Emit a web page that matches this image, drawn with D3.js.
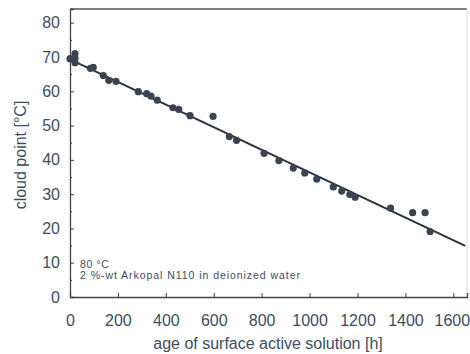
<!DOCTYPE html>
<html><head><meta charset="utf-8">
<script src="https://cdn.jsdelivr.net/npm/d3@7"></script>
<style>body{margin:0;background:#fff}svg{display:block}</style>
</head><body>
<script>
// data
const ageHours = [0, 21, 21, 21, 85, 97, 139, 162, 192, 285, 320, 338, 364, 430, 454, 501, 597, 665, 695, 810, 872, 932, 980, 1030, 1099, 1134, 1168, 1190, 1338, 1430, 1482, 1503];
const cloudPoint = [69.5, 71.0, 69.6, 68.3, 66.7, 67.0, 64.6, 63.2, 62.9, 59.9, 59.3, 58.6, 57.4, 55.2, 54.7, 52.9, 52.7, 46.8, 45.7, 41.9, 39.8, 37.6, 36.2, 34.4, 32.1, 30.9, 29.9, 29.1, 25.9, 24.6, 24.6, 19.1];
const fitX = [0, 1650];
const fitY = [69.3, 14.9];
const xTicks = [0, 200, 400, 600, 800, 1000, 1200, 1400, 1600];
const yTicks = [0, 10, 20, 30, 40, 50, 60, 70, 80];
const yMinor = [5, 15, 25, 35, 45, 55, 65, 75];
const xTitle = "age of surface active solution [h]";
const yTitle = "cloud point [°C]";
const notes = ["80 °C", "2 %-wt Arkopal N110 in deionized water"];

const W = 470, H = 354;
const m = {l: 70, t: 9, r: 3, b: 57};
const pw = W - m.l - m.r, ph = H - m.t - m.b;
const textCol = "#3e4d5e";
const markCol = "#3a4450";

const svg = d3.select("body").append("svg").attr("width", W).attr("height", H)
  .style("font-family", "'Liberation Sans', Arial, sans-serif");
const g = svg.append("g").attr("transform", `translate(${m.l},${m.t})`);

const x = d3.scaleLinear().domain([0, 1657]).range([0, pw]);
const y = d3.scaleLinear().domain([0, 84]).range([ph, 0]);

// frame
g.append("line").attr("x1", 0).attr("x2", pw).attr("y1", 0).attr("y2", 0)
  .attr("stroke", "#555").attr("stroke-width", 1.3);
g.append("line").attr("x1", pw).attr("x2", pw).attr("y1", 0).attr("y2", ph)
  .attr("stroke", "#ddd").attr("stroke-width", 1);

// axes
const xAxis = g.append("g").attr("transform", `translate(0,${ph})`)
  .call(d3.axisBottom(x).tickValues(xTicks).tickSize(-4).tickPadding(18).tickFormat(d3.format("d")));
const yAxis = g.append("g")
  .call(d3.axisLeft(y).tickValues(yTicks).tickSize(-4).tickPadding(10).tickFormat(d3.format("d")));
g.append("g").call(d3.axisLeft(y).tickValues(yMinor).tickSize(-2).tickFormat(""))
  .call(s => s.select(".domain").remove());

[xAxis, yAxis].forEach(a => {
  a.selectAll(".domain").attr("stroke", "#444").attr("stroke-width", 1.3);
  a.selectAll("text").attr("fill", textCol).style("font-size", "16px");
});
g.selectAll(".tick line").attr("stroke", "#444");
xAxis.selectAll(".tick text").filter(d => d === 1600).attr("dx", "-1.5");

// fit line
g.append("path")
  .datum(fitX.map((d, i) => [d, fitY[i]]))
  .attr("d", d3.line().x(d => x(d[0])).y(d => y(d[1])))
  .attr("fill", "none").attr("stroke", "#2a333d").attr("stroke-width", 2);

// points
g.selectAll("circle.pt").data(ageHours.map((d, i) => [d, cloudPoint[i]]))
  .join("circle").attr("class", "pt")
  .attr("cx", d => x(d[0])).attr("cy", d => y(d[1])).attr("r", 3.6)
  .attr("fill", markCol);

// notes
g.append("text").attr("x", 10).attr("y", 259).text(notes[0])
  .attr("fill", textCol).style("font-size", "10.5px").style("letter-spacing", "0.6px");
g.append("text").attr("x", 10).attr("y", 270).text(notes[1])
  .attr("fill", textCol).style("font-size", "10.5px").style("letter-spacing", "0.95px");

// titles
svg.append("text").attr("x", m.l + 198).attr("y", 349).attr("text-anchor", "middle")
  .attr("fill", textCol).style("font-size", "16px").text(xTitle);
svg.append("text").attr("transform", "translate(26,155) rotate(-90)").attr("text-anchor", "middle")
  .attr("fill", textCol).style("font-size", "16px").text(yTitle);
</script>
</body></html>
